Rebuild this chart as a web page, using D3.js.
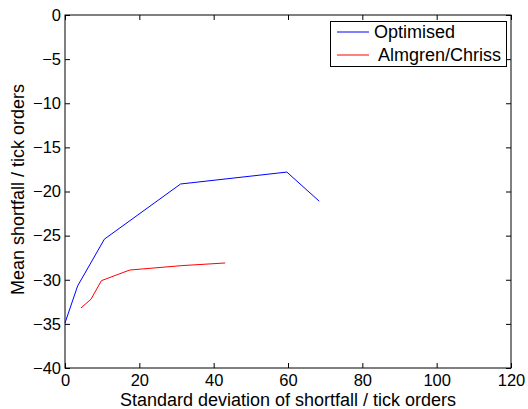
<!DOCTYPE html>
<html lang="en">
<head>
    <meta charset="UTF-8">
    <title>Mean shortfall vs standard deviation</title>
    <script src="https://d3js.org/d3.v7.min.js"></script>
    <style>
        body {
            margin: 0;
            background: #fff;
            font-family: "Liberation Sans", Arial, sans-serif;
        }
        svg text {
            fill: #000;
        }
    </style>
</head>
<body>
    <svg width="528" height="409"></svg>

    <script>
        // values
        const optimisedStd = [0, 3.4, 10.6, 31.1, 59.7, 68.4];
        const optimisedMean = [-34.9, -30.7, -25.4, -19.15, -17.8, -21.1];
        const acStd = [4.3, 7.0, 9.8, 17.4, 31.4, 43.1];
        const acMean = [-33.2, -32.2, -30.1, -28.9, -28.4, -28.1];
        const xTicks = [0, 20, 40, 60, 80, 100, 120];
        const yTicks = [0, -5, -10, -15, -20, -25, -30, -35, -40];
        const seriesNames = ["Optimised", " Almgren/Chriss"];
        const seriesColors = ["#0000ff", "#ff0000"];

        const margin = {top: 15, right: 17, bottom: 41, left: 65};
        const width = 528, height = 409;

        const svg = d3.select("svg");

        const x = d3.scaleLinear().domain([0, 120]).range([margin.left, width - margin.right]);
        const y = d3.scaleLinear().domain([-40, 0]).range([height - margin.bottom, margin.top]);

        const tickLen = 5;
        const fmt = d => d < 0 ? "\u2212" + Math.abs(d) : String(d);

        // box frame
        svg.append("rect")
            .attr("x", x(0)).attr("y", y(0))
            .attr("width", x(120) - x(0)).attr("height", y(-40) - y(0))
            .attr("fill", "none").attr("stroke", "#000").attr("stroke-width", 1);

        // inward ticks on all four sides
        const axB = d3.axisBottom(x).tickValues(xTicks).tickSize(-tickLen).tickFormat(fmt).tickPadding(6);
        const axT = d3.axisTop(x).tickValues(xTicks).tickSize(-tickLen).tickFormat("");
        const axL = d3.axisLeft(y).tickValues(yTicks).tickSize(-tickLen).tickFormat(fmt).tickPadding(4);
        const axR = d3.axisRight(y).tickValues(yTicks).tickSize(-tickLen).tickFormat("");

        const gB = svg.append("g").attr("transform", `translate(0,${y(-40)})`).call(axB);
        const gT = svg.append("g").attr("transform", `translate(0,${y(0)})`).call(axT);
        const gL = svg.append("g").attr("transform", `translate(${x(0)},0)`).call(axL);
        const gR = svg.append("g").attr("transform", `translate(${x(120)},0)`).call(axR);

        [gB, gT, gL, gR].forEach(g => {
            g.select(".domain").remove();
            g.selectAll("line").attr("stroke", "#000");
            g.selectAll("text")
                .attr("font-family", "'Liberation Sans', Arial, sans-serif")
                .attr("font-size", 16.5)
                .attr("fill", "#000");
        });

        // series lines
        const line = d3.line().x(d => x(d[0])).y(d => y(d[1]));
        const series = [
            d3.zip(optimisedStd, optimisedMean),
            d3.zip(acStd, acMean)
        ];
        series.forEach((pts, i) => {
            svg.append("path")
                .datum(pts)
                .attr("d", line)
                .attr("fill", "none")
                .attr("stroke", seriesColors[i])
                .attr("stroke-width", 1);
        });

        // axis labels
        svg.append("text")
            .attr("x", (x(0) + x(120)) / 2)
            .attr("y", 406)
            .attr("text-anchor", "middle")
            .attr("font-size", 18)
            .text("Standard deviation of shortfall / tick orders");

        svg.append("text")
            .attr("transform", `translate(24,${(y(0) + y(-40)) / 2 - 2}) rotate(-90)`)
            .attr("text-anchor", "middle")
            .attr("font-size", 18)
            .text("Mean shortfall / tick orders");

        // legend
        const legend = svg.append("g");
        legend.append("rect")
            .attr("x", 330.5).attr("y", 21.5)
            .attr("width", 176).attr("height", 45)
            .attr("fill", "#fff").attr("stroke", "#000").attr("stroke-width", 1);

        seriesNames.forEach((name, i) => {
            const ly = 32 + i * 23;
            legend.append("line")
                .attr("x1", 337).attr("x2", 369)
                .attr("y1", ly).attr("y2", ly)
                .attr("stroke", seriesColors[i]).attr("stroke-width", 1);
            legend.append("text")
                .attr("x", 374).attr("y", ly + 6)
                .attr("font-size", 18)
                .style("white-space", "pre")
                .text(name);
        });
    </script>
</body>
</html>
